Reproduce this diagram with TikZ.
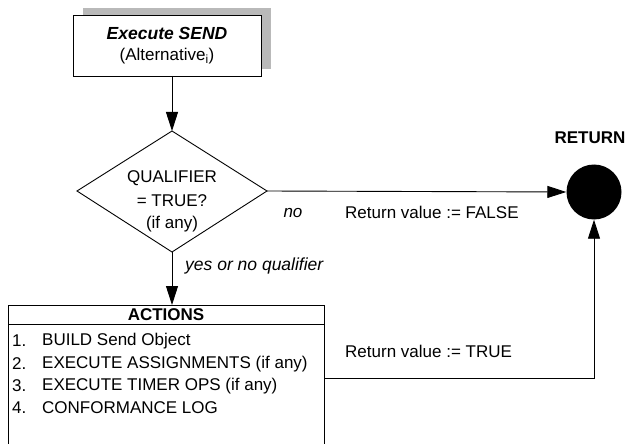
\documentclass[tikz,border=0pt]{standalone}
\usepackage{fontspec}
\setmainfont{Liberation Sans}
\usetikzlibrary{arrows.meta,shapes.geometric}
\begin{document}
\begin{tikzpicture}[x=1pt,y=-1pt,
  txt/.style={inner sep=0pt,font=\fontsize{17}{20}\selectfont},
  ln/.style={line width=0.9pt},
  arr/.style={ln,-{Triangle[length=19pt,width=12pt]}},
  ]
\useasboundingbox (0,0) rectangle (633,444);
% top box with shadow
\fill[gray!55] (83,8) rectangle (271,69);
\draw[ln,fill=white] (73,15) rectangle (261,76);
\node[txt,font=\fontsize{17.5}{20}\selectfont\bfseries\itshape] (t1) at (167,33) {Execute SEND};
\node[txt] (t2) at (167,56) {(Alternative\textsubscript{i})};
\coordinate (boxb) at (172,76);
% diamond
\coordinate (dt) at (172,131);
\coordinate (db) at (172,252);
\coordinate (dl) at (77,191);
\coordinate (dr) at (267,191);
\draw[ln] (dt) -- (dr) -- (db) -- (dl) -- cycle;
\node[txt] (q1) at (172,178) {QUALIFIER};
\node[txt] (q2) at (172,201) {= TRUE?};
\node[txt] (q3) at (172,224) {(if any)};
\draw[arr] (boxb) -- (dt);
% actions box
\coordinate (at) at (172,305);
\draw[ln] (8,446) -- (8,305) -- (324,305) -- (324,446);
\draw[ln] (8,324) -- (324,324);
\node[txt,font=\fontsize{17}{20}\selectfont\bfseries] (ah) at (166,315) {ACTIONS};
\draw[arr] (db) -- (at);
\node[txt,anchor=west] (n1) at (12,341) {1.};
\node[txt,anchor=west] (n2) at (12,364) {2.};
\node[txt,anchor=west] (n3) at (12,386) {3.};
\node[txt,anchor=west] (n4) at (12,408) {4.};
\node[txt,anchor=west] (i1) at (42,341) {BUILD Send Object};
\node[txt,anchor=west] (i2) at (42,364) {EXECUTE ASSIGNMENTS (if any)};
\node[txt,anchor=west] (i3) at (42,386) {EXECUTE TIMER OPS (if any)};
\node[txt,anchor=west] (i4) at (42,408) {CONFORMANCE LOG};
\node[txt,font=\fontsize{17.5}{20}\selectfont\itshape,anchor=west] (yes) at (185,266) {yes or no qualifier};
% return
\node[circle,fill=black,minimum size=55pt,inner sep=0pt] (ret) at (594,192) {};
\node[txt,font=\fontsize{17}{20}\selectfont\bfseries] (rl) at (590,138) {RETURN};
\draw[arr] (dr) -- (ret.west);
\node[txt,font=\fontsize{17}{20}\selectfont\itshape] (no) at (293,213) {no};
\node[txt,anchor=west] (rf) at (345,212) {Return value := FALSE};
\coordinate (ar) at (324,378);
\coordinate (corner) at (594,378);
\draw[arr] (ar) -- (corner) -- (ret.south);
\node[txt,anchor=west] (rt) at (345,351) {Return value := TRUE};
\end{tikzpicture}
\end{document}
